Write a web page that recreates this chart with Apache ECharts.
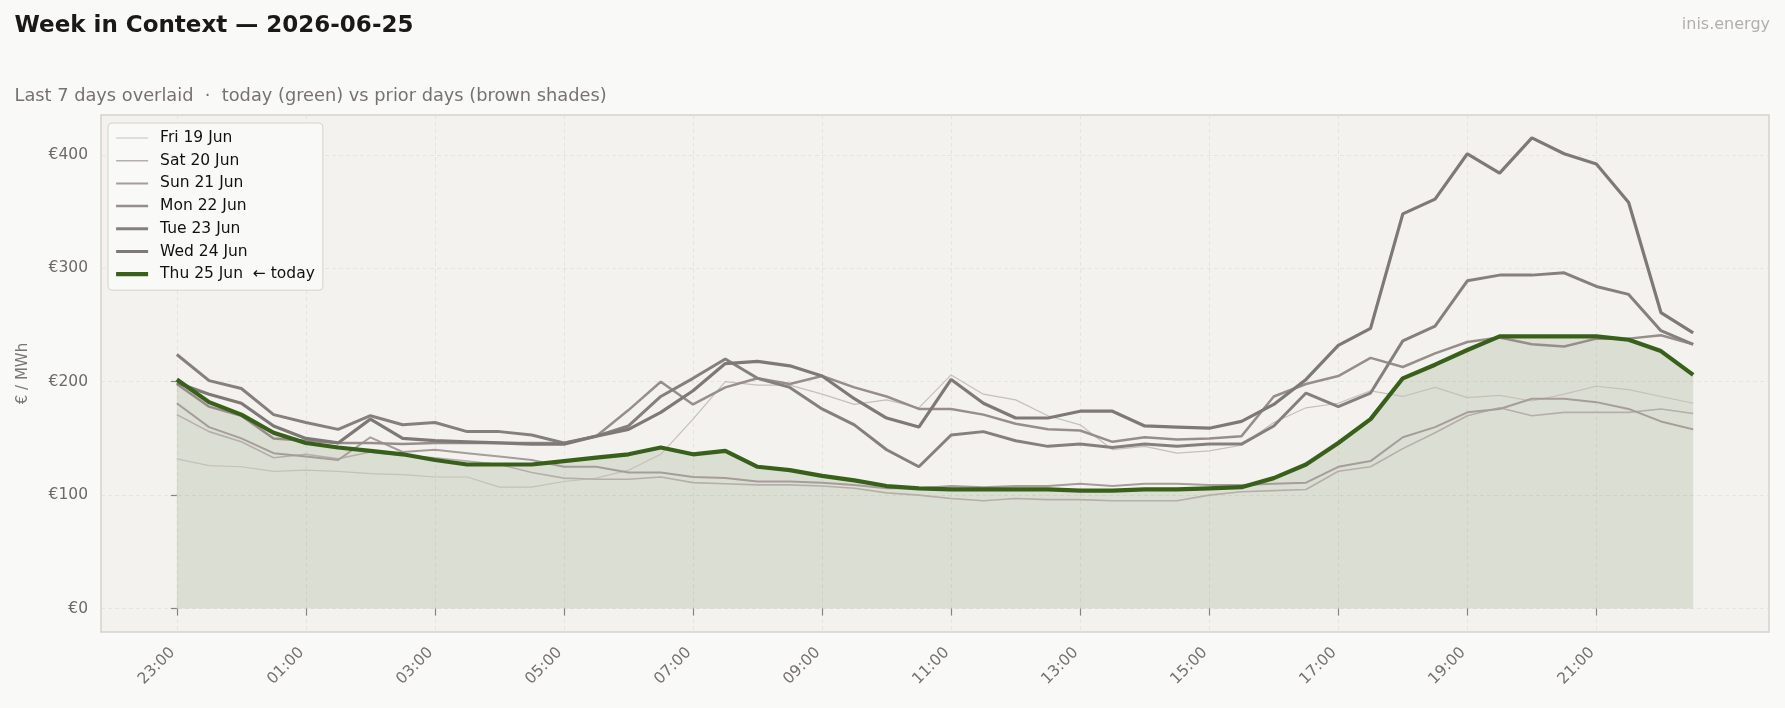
<!DOCTYPE html>
<html>
<head>
<meta charset="utf-8">
<title>Week in Context</title>
<script src="https://cdn.jsdelivr.net/npm/echarts@6/dist/echarts.min.js"></script>
<style>
  html, body { margin: 0; padding: 0; background: #f9f9f7; }
  #chart { width: 1785px; height: 708px; }
</style>
</head>
<body>
<div id="chart"></div>
<script>
// half-hour slots, UTC, starting 23:00
const slots = [
  '23:00', '23:30', '00:00', '00:30', '01:00', '01:30', '02:00', '02:30',
  '03:00', '03:30', '04:00', '04:30', '05:00', '05:30', '06:00', '06:30',
  '07:00', '07:30', '08:00', '08:30', '09:00', '09:30', '10:00', '10:30',
  '11:00', '11:30', '12:00', '12:30', '13:00', '13:30', '14:00', '14:30',
  '15:00', '15:30', '16:00', '16:30', '17:00', '17:30', '18:00', '18:30',
  '19:00', '19:30', '20:00', '20:30', '21:00', '21:30', '22:00', '22:30'
]
const xTickLabels = ['23:00', '01:00', '03:00', '05:00', '07:00', '09:00', '11:00', '13:00', '15:00', '17:00', '19:00', '21:00']
const yTicks = [0, 100, 200, 300, 400]

const dayNames = ['Fri 19 Jun', 'Sat 20 Jun', 'Sun 21 Jun', 'Mon 22 Jun', 'Tue 23 Jun', 'Wed 24 Jun', 'Thu 25 Jun  ← today']

// €/MWh per slot
const fri = [132, 126, 125, 121, 122, 121, 119, 118, 116, 116, 107, 107, 112, 115, 122, 136, 167, 200, 197, 197, 189, 180, 184, 177,
  206, 189, 184, 170, 162, 140, 143, 137, 139, 144, 164, 177, 181, 192, 187, 195, 186, 188, 183, 189, 196, 193, 187, 181]
const sat = [171, 156, 147, 133, 136, 132, 138, 135, 133, 130, 127, 120, 115, 114, 114, 116, 111, 110, 109, 109, 108, 106, 102, 100,
  97, 95, 97, 96, 96, 95, 95, 95, 100, 103, 104, 105, 121, 125, 141, 155, 170, 177, 170, 173, 173, 173, 176, 172]
const sun = [181, 160, 150, 137, 134, 131, 151, 138, 140, 137, 134, 131, 125, 125, 120, 120, 116, 115, 112, 112, 111, 109, 106, 106,
  108, 107, 108, 108, 110, 108, 110, 110, 109, 109, 110, 111, 125, 130, 151, 160, 173, 176, 185, 185, 182, 176, 165, 158]
const mon = [198, 178, 170, 150, 148, 146, 146, 145, 146, 146, 146, 146, 146, 152, 175, 200, 180, 195, 203, 198, 205, 195, 187, 176,
  176, 171, 163, 158, 157, 147, 151, 149, 150, 152, 187, 198, 205, 221, 213, 225, 235, 239, 233, 231, 238, 238, 241, 233]
const tue = [224, 201, 194, 171, 164, 158, 170, 162, 164, 156, 156, 153, 146, 152, 161, 187, 203, 220, 203, 195, 176, 162, 140, 125,
  153, 156, 148, 143, 145, 142, 145, 143, 145, 145, 161, 190, 178, 190, 236, 249, 289, 294, 294, 296, 284, 277, 245, 233]
const wed = [199, 189, 181, 161, 150, 146, 167, 150, 148, 147, 146, 145, 145, 152, 158, 173, 192, 216, 218, 214, 205, 185, 168, 160,
  202, 181, 168, 168, 174, 174, 161, 160, 159, 165, 180, 202, 232, 247, 348, 361, 401, 384, 415, 401, 392, 358, 261, 243]
const thu = [202, 182, 171, 155, 146, 142, 139, 136, 131, 127, 127, 127, 130, 133, 136, 142, 136, 139, 125, 122, 117, 113, 108, 106,
  105, 105, 105, 105, 104, 104, 105, 105, 106, 107, 115, 127, 146, 167, 203, 215, 228, 240, 240, 240, 240, 237, 227, 206]

const dayValues = [fri, sat, sun, mon, tue, wed, thu]
const lineColors = ['#c6bfbb', '#b6aeaa', '#a69d99', '#978e8b', '#86807d', '#7e7977', '#38601a']
const lineWidths = [1.2, 1.6, 2.0, 2.5, 3.0, 3.2, 4.2]

// hours elapsed since 23:00
function hoursOf(label) {
  const [h, m] = label.split(':').map(Number)
  return ((h - 23 + 24) % 24) + m / 60
}
const xTickValues = xTickLabels.map(hoursOf)
const toPoints = (values) => slots.map((s, i) => [hoursOf(s), values[i]])

const FONT = 'DejaVu Sans'
const grayText = '#6e6966'
const gridLine = { show: true, lineStyle: { color: '#e2dfd9', type: [4, 3], width: 0.8 } }

const series = dayNames.map((name, k) => ({
  name,
  type: 'line',
  symbol: 'none',
  z: k === 6 ? 5 : 3,
  lineStyle: { color: lineColors[k], width: lineWidths[k] },
  itemStyle: { color: lineColors[k] },
  data: toPoints(dayValues[k])
}))
// today's shaded area sits underneath every line
series.push({
  name: 'today-area',
  type: 'line',
  symbol: 'none',
  z: 1,
  silent: true,
  lineStyle: { width: 0 },
  areaStyle: { color: '#3a601a', opacity: 0.13 },
  data: toPoints(thu)
})

const chart = echarts.init(document.getElementById('chart'))
chart.setOption({
  backgroundColor: '#f9f9f7',
  animation: false,
  textStyle: { fontFamily: FONT },
  title: [
    { text: 'Week in Context — 2026-06-25', left: 9.5, top: 10, textStyle: { fontFamily: FONT, fontSize: 23, fontWeight: 'bold', color: '#1b1917' } },
    { text: 'Last 7 days overlaid  ·  today (green) vs prior days (brown shades)', left: 9.5, top: 82, textStyle: { fontFamily: FONT, fontSize: 17.8, fontWeight: 'normal', color: '#77726e' } },
    { text: 'inis.energy', right: 10, top: 12, textStyle: { fontFamily: FONT, fontSize: 16, fontWeight: 'normal', color: '#b3aeaa' } }
  ],
  legend: {
    data: dayNames,
    orient: 'vertical',
    left: 108,
    top: 123,
    padding: [7, 8, 8, 6],
    itemWidth: 32,
    itemHeight: 16,
    itemGap: 6.7,
    backgroundColor: 'rgba(249, 249, 247, 0.9)',
    borderColor: '#d6d2cc',
    borderWidth: 1,
    borderRadius: 4,
    itemStyle: { opacity: 0 },
    lineStyle: { width: 'inherit' },
    textStyle: { fontFamily: FONT, fontSize: 15.5, color: '#111', padding: [0, 0, 0, 7] },
    selectedMode: false
  },
  grid: {
    show: true,
    left: 101,
    top: 115,
    width: 1668,
    height: 517,
    backgroundColor: '#f3f2ee',
    borderColor: '#d6d2cc',
    borderWidth: 1.5,
    containLabel: false
  },
  xAxis: {
    type: 'value',
    min: -1.175,
    max: 24.675,
    axisLine: { show: false },
    axisTick: { show: true, customValues: xTickValues, length: 7, lineStyle: { color: '#8a8480', width: 1.2 } },
    axisLabel: {
      customValues: xTickValues,
      rotate: 45,
      margin: 14,
      padding: [0, 6, 0, 0],
      fontSize: 15.5,
      color: '#77716d',
      formatter: (v) => xTickLabels[xTickValues.indexOf(v)]
    },
    splitLine: gridLine
  },
  yAxis: {
    type: 'value',
    min: -20.7,
    max: 435.2,
    name: '€ / MWh',
    nameLocation: 'middle',
    nameGap: 70,
    nameTextStyle: { fontFamily: FONT, fontSize: 15, color: '#7a7572' },
    axisLine: { show: false },
    axisTick: { show: true, customValues: yTicks, length: 6, lineStyle: { color: '#8a8480', width: 1.2 } },
    axisLabel: { customValues: yTicks, margin: 13, fontSize: 15.5, color: grayText, formatter: (v) => '€' + v },
    splitLine: gridLine
  },
  series
})
</script>
</body>
</html>
